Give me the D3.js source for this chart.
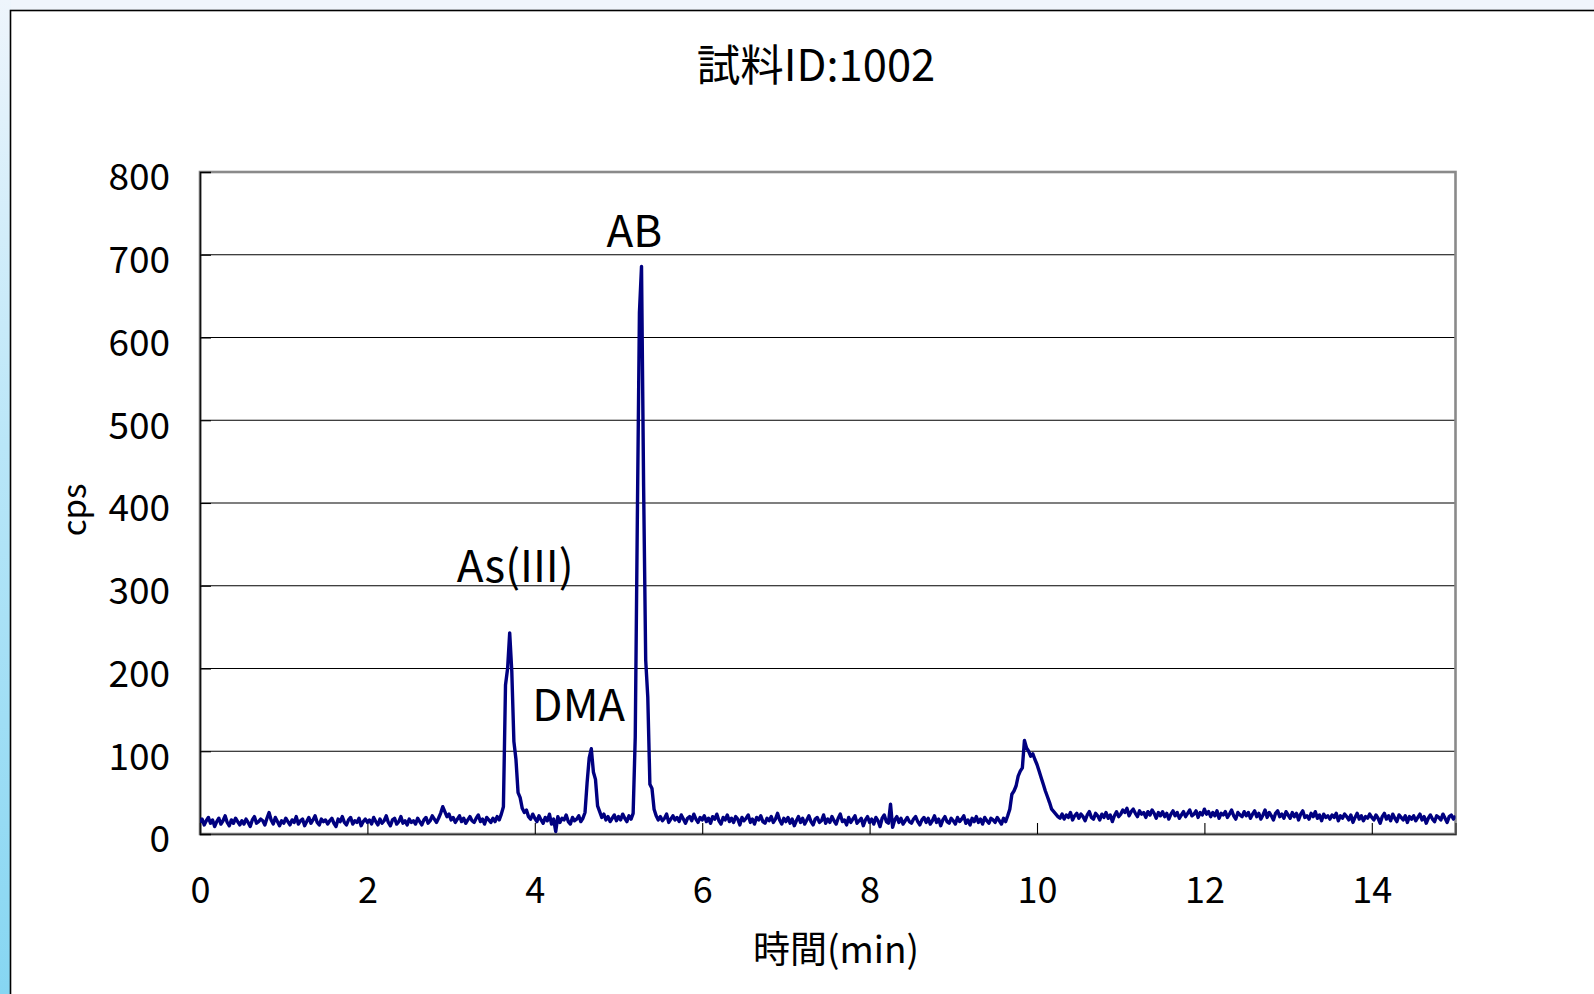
<!DOCTYPE html>
<html>
<head>
<meta charset="utf-8">
<script src="https://cdn.jsdelivr.net/npm/d3@7"></script>
<style>
  html, body { margin: 0; padding: 0; background: #ffffff; }
  svg { display: block; }
  text { font-family: "Noto Sans CJK JP", "Noto Sans", sans-serif; fill: #000; }
</style>
</head>
<body>
<script>
// ---------------- data ----------------
const chartTitle = "試料ID:1002";
const xTitle = "時間(min)";
const yTitle = "cps";
const xTicks = [0, 2, 4, 6, 8, 10, 12, 14];
const yTicks = [0, 100, 200, 300, 400, 500, 600, 700, 800];
const xDomain = [0, 15];
const yDomain = [0, 800];
const sampleStart = 0;      // min
const sampleStep = 0.025;   // min between detector readings

// detector counts (cps), one reading per sampleStep, 0 – 15 min
const cps = [
  14,18,11,16,20,13,17,9,15,19,12,16,22,14,10,17,13,19,15,11,
  16,12,18,14,9,17,21,13,15,18,16,11,19,26,17,12,20,15,10,16,
  13,19,15,11,17,14,21,12,16,18,10,15,20,13,17,22,14,11,18,15,
  17,12,16,19,13,9,18,15,21,14,11,17,20,12,16,14,19,10,15,18,
  14,17,12,20,15,11,18,13,16,22,14,10,17,19,12,15,21,13,16,11,
  18,14,16,12,19,15,11,17,20,13,16,22,18,14,19,25,33,27,21,24,
  17,20,14,18,22,15,19,13,17,21,16,14,19,23,15,18,12,20,17,14,
  19,15,21,17,24,33,180,200,243,197,112,90,50,44,31,26,29,21,18,24,
  19,15,22,17,13,20,16,24,12,18,3,21,14,19,17,23,15,12,20,16,
  18,22,15,19,26,62,92,103,75,66,34,27,20,24,17,21,15,19,23,16,
  21,17,24,19,15,22,18,25,117,380,630,686,420,210,165,60,55,30,22,17,
  21,16,19,24,14,18,22,17,20,15,23,18,13,19,21,16,24,18,14,20,
  17,22,15,19,13,21,18,24,16,12,20,17,23,15,19,14,21,18,11,20,
  16,19,23,14,18,12,20,17,22,15,13,19,16,21,14,18,25,17,12,19,
  15,20,13,18,10,16,21,14,19,12,17,22,15,11,18,20,14,16,23,13,
  18,14,21,16,12,19,24,15,17,11,20,14,18,22,13,16,19,10,17,21,
  14,18,12,20,16,9,19,23,15,13,36,8,17,21,14,19,12,16,20,15,
  13,18,21,15,11,17,20,14,19,12,16,22,14,18,10,17,21,15,13,19,
  16,12,20,15,18,22,13,17,11,19,15,21,14,18,12,20,16,13,19,17,
  14,20,16,12,19,15,22,30,48,52,58,70,76,80,113,104,100,94,97,90,
  84,76,68,60,52,45,38,30,27,24,21,19,24,18,23,20,26,17,22,25,
  19,24,21,16,23,27,20,18,25,22,17,24,20,26,19,23,15,22,27,21,
  24,29,26,31,22,27,30,25,21,28,24,26,20,27,23,29,25,19,26,22,
  27,21,25,18,24,28,22,26,19,23,27,21,25,29,22,24,28,20,26,23,
  30,24,27,21,26,22,28,19,25,23,27,20,24,29,22,18,26,23,21,27,
  22,26,19,24,28,21,25,18,23,29,20,26,22,17,25,28,21,24,19,27,
  23,19,26,21,25,17,24,28,20,22,18,25,21,27,19,23,16,24,20,22,
  18,23,20,25,16,22,19,24,21,17,23,14,20,25,18,22,16,21,19,24,
  20,17,23,19,13,21,25,18,22,16,24,19,15,23,20,17,22,14,21,18,
  22,16,20,24,17,21,13,19,23,18,15,22,20,17,24,19,14,21,23,18,
  22
];

// peak labels
const peakNames = ["AB", "As(III)", "DMA"];
const peakTimes = [5.19, 3.765, 4.525];
const peakLabelValues = [709, 305, 136];

// ---------------- drawing ----------------
const W = 1594, H = 994;
const svg = d3.select("body").append("svg").attr("width", W).attr("height", H);

const defs = svg.append("defs");
const grad = defs.append("linearGradient").attr("id", "leftStrip")
  .attr("x1", 0).attr("y1", 0).attr("x2", 0).attr("y2", 1);
grad.append("stop").attr("offset", "0%").attr("stop-color", "#eef5fc");
grad.append("stop").attr("offset", "45%").attr("stop-color", "#b9e6f8");
grad.append("stop").attr("offset", "100%").attr("stop-color", "#86d6f2");

// page background
svg.append("rect").attr("x", 0).attr("y", 0).attr("width", W).attr("height", H).attr("fill", "#f0f5fc");
svg.append("rect").attr("x", 0).attr("y", 0).attr("width", 11).attr("height", H).attr("fill", "url(#leftStrip)");
// chart area
svg.append("rect").attr("x", 10.5).attr("y", 10.5).attr("width", W + 10).attr("height", H + 10)
  .attr("fill", "#fff").attr("stroke", "#000").attr("stroke-width", 1.6);

const plot = { left: 200, top: 172, right: 1455.5, bottom: 834 };
const x = d3.scaleLinear().domain(xDomain).range([plot.left, plot.right]);
const y = d3.scaleLinear().domain(yDomain).range([plot.bottom, plot.top]);

// gridlines
svg.append("g").selectAll("line").data(yTicks.filter(v => v > 0 && v < 800)).join("line")
  .attr("x1", plot.left).attr("x2", plot.right)
  .attr("y1", d => y(d)).attr("y2", d => y(d))
  .attr("stroke", "#000").attr("stroke-width", 1.1);

// plot border
svg.append("rect").attr("x", plot.left).attr("y", plot.top)
  .attr("width", plot.right - plot.left).attr("height", plot.bottom - plot.top)
  .attr("fill", "none").attr("stroke", "#8a8a8a").attr("stroke-width", 2.6);

// axes
const xAxis = d3.axisBottom(x).tickValues(xTicks).tickSize(-11).tickPadding(43).tickFormat(d3.format("d"));
const gx = svg.append("g").attr("transform", `translate(0,${plot.bottom})`).call(xAxis);
gx.select(".domain").attr("stroke", "#333").attr("stroke-width", 1.3);
gx.selectAll(".tick line").attr("stroke", "#000").attr("stroke-width", 1.1);
gx.selectAll(".tick text").attr("font-size", 36).attr("font-family", "Noto Sans CJK JP").attr("fill", "#000");

const yAxis = d3.axisLeft(y).tickValues(yTicks).tickSize(-11).tickPadding(30).tickFormat(d3.format("d"));
const gy = svg.append("g").attr("transform", `translate(${plot.left},0)`).call(yAxis);
gy.select(".domain").attr("stroke", "#111").attr("stroke-width", 1.6);
gy.selectAll(".tick line").attr("stroke", "#000").attr("stroke-width", 1.1);
gy.selectAll(".tick text").attr("font-size", 37).attr("font-family", "Noto Sans CJK JP").attr("fill", "#000").attr("dy", "0.48em");

// series
const series = cps.map((v, i) => ({ t: sampleStart + i * sampleStep, v }));
defs.append("clipPath").attr("id", "plotClip").append("rect")
  .attr("x", plot.left).attr("y", plot.top - 2).attr("width", plot.right - plot.left).attr("height", plot.bottom - plot.top + 2);
const line = d3.line().x(d => x(d.t)).y(d => y(d.v));
svg.append("path").datum(series).attr("clip-path", "url(#plotClip)")
  .attr("d", line).attr("fill", "none").attr("stroke", "#000080")
  .attr("stroke-width", 3.4).attr("stroke-linejoin", "round");

// peak labels
svg.append("g").selectAll("text").data(peakNames).join("text")
  .attr("x", (d, i) => x(peakTimes[i]))
  .attr("y", (d, i) => y(peakLabelValues[i]))
  .attr("font-size", 44).attr("text-anchor", "middle")
  .text(d => d);

// titles
svg.append("text").attr("x", 816).attr("y", 81).attr("text-anchor", "middle")
  .attr("font-size", 43.5).text(chartTitle);
svg.append("text").attr("x", 836).attr("y", 963).attr("text-anchor", "middle")
  .attr("font-size", 37).text(xTitle);
svg.append("text").attr("transform", "translate(86,510) rotate(-90)").attr("text-anchor", "middle")
  .attr("font-size", 33).text(yTitle);
</script>
</body>
</html>
